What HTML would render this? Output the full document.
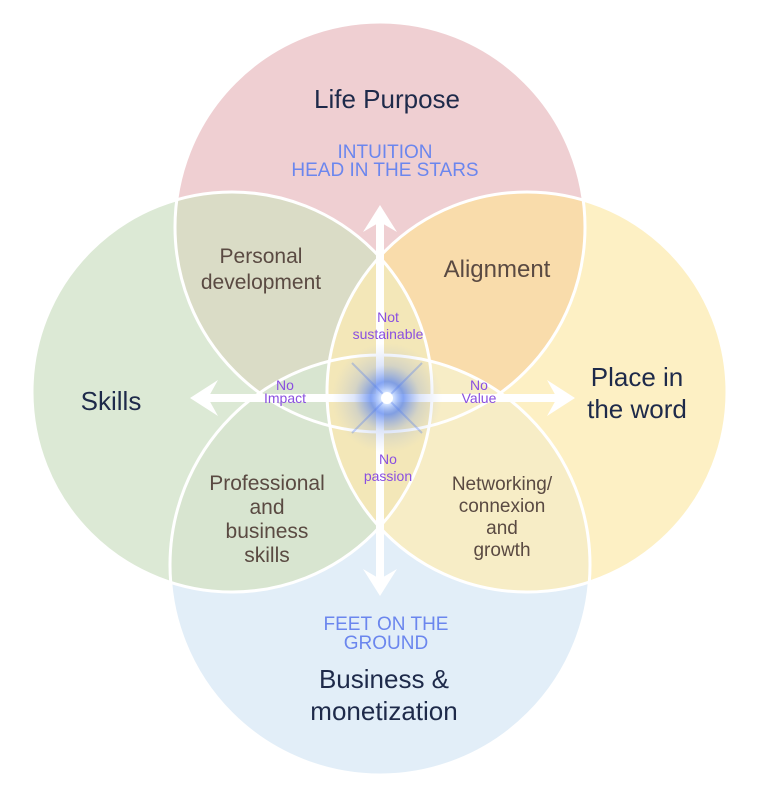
<!DOCTYPE html>
<html><head><meta charset="utf-8"><style>
html,body{margin:0;padding:0;background:#fff;}
svg{display:block;}
text{font-family:"Liberation Sans",sans-serif;}
</style></head><body>
<svg width="757" height="794" viewBox="0 0 757 794" xmlns="http://www.w3.org/2000/svg">
<defs>
<radialGradient id="glow" cx="50%" cy="50%" r="50%">
<stop offset="0" stop-color="#ffffff"/>
<stop offset="0.12" stop-color="#cfe0ff"/>
<stop offset="0.3" stop-color="#5b86f0" stop-opacity="0.75"/>
<stop offset="0.6" stop-color="#7a9ae8" stop-opacity="0.25"/>
<stop offset="1" stop-color="#a0b4e8" stop-opacity="0"/>
</radialGradient>
<clipPath id="cT"><circle cx="380" cy="227" r="205"/></clipPath>
<clipPath id="cL"><circle cx="232" cy="392" r="200"/></clipPath>
<clipPath id="cR"><circle cx="527" cy="392" r="200"/></clipPath>
<clipPath id="cB"><circle cx="380" cy="565" r="210"/></clipPath>
</defs>
<circle cx="380" cy="227" r="205" fill="#efcfd2"/>
<circle cx="232" cy="392" r="200" fill="#dce9d5"/>
<circle cx="527" cy="392" r="200" fill="#fdf0c4"/>
<circle cx="380" cy="565" r="210" fill="#e2eef8"/>
<g clip-path="url(#cT)">
<circle cx="232" cy="392" r="200" fill="#dadcc6"/>
<circle cx="527" cy="392" r="200" fill="#f9dcab"/>
</g>
<g clip-path="url(#cB)">
<circle cx="232" cy="392" r="200" fill="#d8e5d0"/>
<circle cx="527" cy="392" r="200" fill="#f7edc6"/>
</g>
<g clip-path="url(#cL)">
<circle cx="527" cy="392" r="200" fill="#f3e7b8"/>
</g>
<g fill="none" stroke="#ffffff" stroke-width="3">
<circle cx="380" cy="227" r="205"/>
<circle cx="232" cy="392" r="200"/>
<circle cx="527" cy="392" r="200"/>
<circle cx="380" cy="565" r="210"/>
</g>
<g fill="#ffffff">
<rect x="376" y="215" width="8" height="370"/>
<rect x="200" y="394" width="365" height="8"/>
<polygon points="380,205 363,232 380,222 397,232"/>
<polygon points="380,596 363,569 380,579 397,569"/>
<polygon points="190,398 218,380 208,398 218,416"/>
<polygon points="575,398 547,380 557,398 547,416"/>
</g>
<circle cx="387" cy="398" r="55" fill="url(#glow)"/>
<g stroke="#5a82ee" stroke-opacity="0.35" stroke-width="2">
<line x1="352" y1="363" x2="422" y2="433"/>
<line x1="422" y1="363" x2="352" y2="433"/>
</g>
<circle cx="387" cy="398" r="6" fill="#ffffff"/>
<g fill="#1e2a4a" text-anchor="middle" font-size="26">
<text x="387" y="108">Life Purpose</text>
<text x="111" y="410">Skills</text>
<text x="637" y="386">Place in</text>
<text x="637" y="418">the word</text>
<text x="384" y="688">Business &amp;</text>
<text x="384" y="720">monetization</text>
</g>
<g fill="#6b86ee" text-anchor="middle" font-size="19">
<text x="385" y="158">INTUITION</text>
<text x="385" y="176">HEAD IN THE STARS</text>
<text x="386" y="630">FEET ON THE</text>
<text x="386" y="649">GROUND</text>
</g>
<g fill="#5a4a42" text-anchor="middle" font-size="21">
<text x="261" y="263">Personal</text>
<text x="261" y="289">development</text>
<text x="497" y="277" font-size="24">Alignment</text>
<text x="267" y="490">Professional</text>
<text x="267" y="514">and</text>
<text x="267" y="538">business</text>
<text x="267" y="562">skills</text>
</g>
<g fill="#5a4a42" text-anchor="middle" font-size="19">
<text x="502" y="490">Networking/</text>
<text x="502" y="512">connexion</text>
<text x="502" y="534">and</text>
<text x="502" y="556">growth</text>
</g>
<g fill="#8a4fe0" text-anchor="middle" font-size="14">
<text x="388" y="322">Not</text>
<text x="388" y="339">sustainable</text>
<text x="285" y="390">No</text>
<text x="285" y="403">Impact</text>
<text x="479" y="390">No</text>
<text x="479" y="403">Value</text>
<text x="388" y="464">No</text>
<text x="388" y="481">passion</text>
</g>
</svg>
</body></html>
